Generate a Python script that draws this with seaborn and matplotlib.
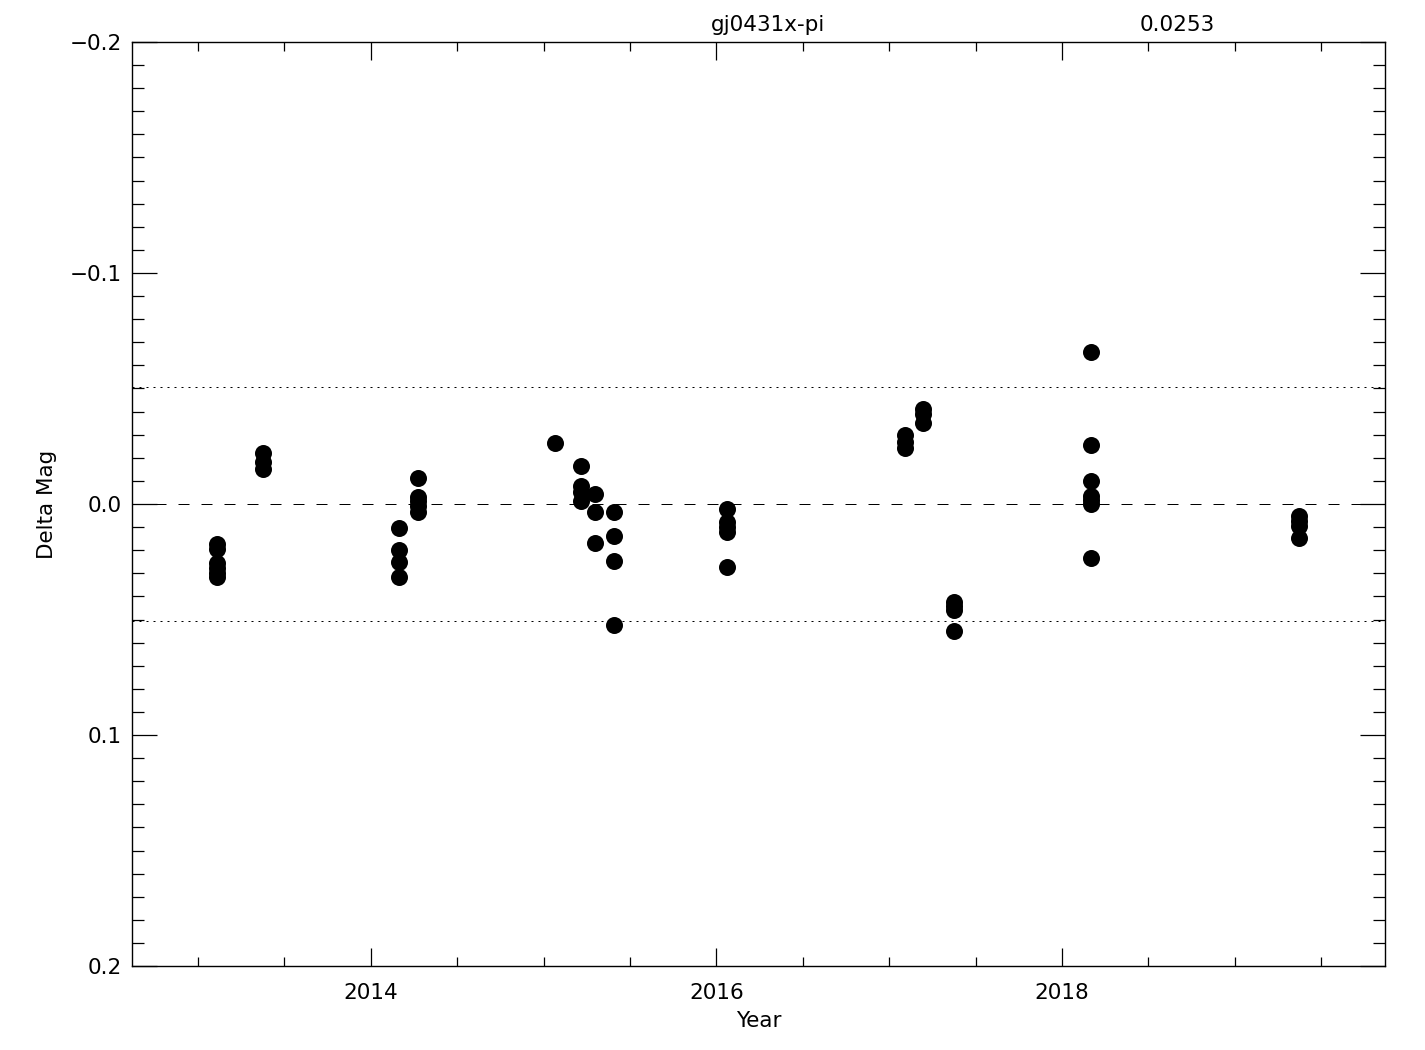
import numpy as np
import pandas as pd
import matplotlib
matplotlib.use('Agg')
import matplotlib.pyplot as plt
import seaborn as sns
from matplotlib.ticker import MultipleLocator, FuncFormatter

year = [
    2013.11, 2013.11, 2013.11, 2013.11, 2013.11, 2013.11,
    2013.375, 2013.375, 2013.375,
    2014.16, 2014.16, 2014.16, 2014.16,
    2014.27, 2014.27, 2014.27, 2014.27, 2014.27,
    2015.065,
    2015.216, 2015.216, 2015.216, 2015.216,
    2015.30, 2015.30, 2015.30,
    2015.41, 2015.41, 2015.41, 2015.41,
    2016.06, 2016.06, 2016.06, 2016.06, 2016.06,
    2017.09, 2017.09, 2017.09,
    2017.195, 2017.195, 2017.195,
    2017.375, 2017.375, 2017.375, 2017.375,
    2018.17, 2018.17, 2018.17, 2018.17, 2018.17, 2018.17, 2018.17,
    2019.37, 2019.37, 2019.37, 2019.37,
]
delta_mag = [
    0.0173, 0.0195, 0.0255, 0.0277, 0.0300, 0.0316,
    -0.0220, -0.0180, -0.0150,
    0.0104, 0.0200, 0.0250, 0.0316,
    -0.0113, -0.0030, -0.0013, 0.0009, 0.0035,
    -0.0264,
    -0.0165, -0.0078, -0.0050, -0.0012,
    -0.0043, 0.0033, 0.0169,
    0.0036, 0.0137, 0.0248, 0.0524,
    0.0022, 0.0078, 0.0100, 0.0121, 0.0271,
    -0.0300, -0.0270, -0.0242,
    -0.0410, -0.0390, -0.0350,
    0.0424, 0.0440, 0.0460, 0.0550,
    -0.0658, -0.0255, -0.0100, -0.0035, -0.0017, 0.0000, 0.0234,
    0.0052, 0.0074, 0.0095, 0.0147,
]
star_name = 'gj0431x-pi'
rms = 0.0253

df = pd.DataFrame({'Year': year, 'Delta Mag': delta_mag})

sns.set_style('ticks')
plt.rcParams['font.family'] = ['DejaVu Sans']
plt.rcParams['text.color'] = 'black'
plt.rcParams['axes.labelcolor'] = 'black'

fig = plt.figure(figsize=(14.25, 10.5), dpi=100)
ax = fig.add_axes([0.0926, 0.08, 0.8793, 0.88])

sns.scatterplot(data=df, x='Year', y='Delta Mag', ax=ax, s=150,
                color='black', edgecolor='black', linewidth=0, zorder=3)

# zero line and +/- 2 rms limits
ax.axhline(0.0, color='black', lw=0.72, ls=(0, (11, 12)), zorder=1)
ax.axhline(2 * rms, color='black', lw=0.72, ls=(0, (2, 5)), zorder=1)
ax.axhline(-2 * rms, color='black', lw=0.72, ls=(0, (2, 5)), zorder=1)

ax.set_xlim(2012.617, 2019.87)
ax.set_ylim(0.2, -0.2)

ax.xaxis.set_major_locator(MultipleLocator(2))
ax.xaxis.set_minor_locator(MultipleLocator(0.5))
ax.yaxis.set_major_locator(MultipleLocator(0.1))
ax.yaxis.set_minor_locator(MultipleLocator(0.01))
ax.yaxis.set_major_formatter(FuncFormatter(lambda v, p: f'{v:.1f}'.replace('-', '\u2212') if abs(v) > 1e-9 else '0.0'))

ax.tick_params(axis='both', which='both', direction='in', top=True, right=True,
               width=0.9, color='black', labelsize=15.5, labelcolor='black')
ax.tick_params(axis='x', which='major', length=13, pad=12)
ax.tick_params(axis='x', which='minor', length=6.5)
ax.tick_params(axis='y', which='major', length=18, pad=7)
ax.tick_params(axis='y', which='minor', length=8.6)
for sp in ax.spines.values():
    sp.set_linewidth(1.0)
    sp.set_color('black')

ax.set_xlabel('Year', fontsize=15.5, labelpad=6)
ax.set_ylabel('Delta Mag', fontsize=15.5, labelpad=9)

fig.text(0.539, 0.976, star_name, ha='center', va='center', fontsize=15.5)
fig.text(0.826, 0.976, f'{rms:.4f}', ha='center', va='center', fontsize=15.5)

fig.savefig('out.png', dpi=100, facecolor='white')
